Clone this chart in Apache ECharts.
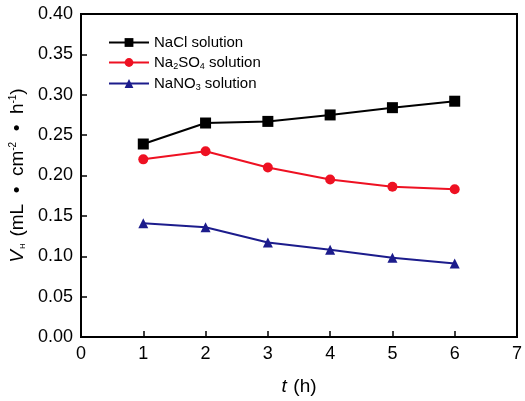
<!DOCTYPE html>
<html><head><meta charset="utf-8">
<script src="https://cdn.jsdelivr.net/npm/echarts@6/dist/echarts.min.js"></script>
<style>html,body{margin:0;padding:0;background:#fff}#c{width:525px;height:401px}</style>
</head><body><div id="c"></div>
<script>
const hours = [1, 2, 3, 4, 5, 6];
const seriesNames = ['NaCl solution', 'Na2SO4 solution', 'NaNO3 solution'];
const nacl = [0.239, 0.265, 0.267, 0.275, 0.284, 0.292];
const na2so4 = [0.220, 0.230, 0.210, 0.195, 0.186, 0.183];
const nano3 = [0.141, 0.136, 0.117, 0.108, 0.098, 0.091];
const yTicks = ['0.00','0.05','0.10','0.15','0.20','0.25','0.30','0.35','0.40'];

const FONT = 'Liberation Sans, Arial, sans-serif';
const legendRich = {
  n: {fontSize: 15, fontFamily: FONT, color: '#000'},
  s: {fontSize: 9, fontFamily: FONT, color: '#000', verticalAlign: 'bottom', padding: [8, 0, 0, 0]}
};
const legendLabels = {
  'NaCl solution': '{n|NaCl solution}',
  'Na2SO4 solution': '{n|Na}{s|2}{n|SO}{s|4}{n| solution}',
  'NaNO3 solution': '{n|NaNO}{s|3}{n| solution}'
};
function pts(v){ return hours.map((h,i)=>[h, v[i]]); }

const chart = echarts.init(document.getElementById('c'), null, {renderer: 'canvas'});
chart.setOption({
  animation: false,
  backgroundColor: '#fff',
  grid: {left: 81, right: 6, top: 14, bottom: 63, show: true, borderColor: '#000', borderWidth: 2, backgroundColor: 'transparent'},
  legend: {
    left: 103, top: 30, orient: 'vertical', itemWidth: 40, itemHeight: 11, itemGap: 5,
    data: seriesNames,
    formatter: n => legendLabels[n],
    textStyle: {rich: legendRich, fontSize: 15, fontFamily: FONT}
  },
  xAxis: {
    type: 'value', min: 0, max: 7, interval: 1,
    axisLine: {show: true, onZero: false, lineStyle: {color: '#000', width: 2}},
    axisTick: {show: true, inside: true, length: 6, lineStyle: {color: '#000', width: 1.5}},
    splitLine: {show: false},
    axisLabel: {fontSize: 18, fontFamily: FONT, color: '#000', margin: 8},
    name: '{i|t}  {n|(h)}', nameLocation: 'middle', nameGap: 40,
    nameTextStyle: {rich: {i: {fontSize: 19, fontStyle: 'italic', fontFamily: FONT, color: '#000'}, n: {fontSize: 19, fontFamily: FONT, color: '#000'}}}
  },
  yAxis: {
    type: 'value', min: 0, max: 0.4, interval: 0.05,
    axisLine: {show: true, onZero: false, lineStyle: {color: '#000', width: 2}},
    axisTick: {show: true, inside: true, length: 6, lineStyle: {color: '#000', width: 1.5}},
    splitLine: {show: false},
    axisLabel: {fontSize: 18, fontFamily: FONT, color: '#000', margin: 8, formatter: v => yTicks[Math.round(v / 0.05)]},
    name: '{i|V}{s|H}  {n|(mL  •  cm}{p|-2}{n|  •  h}{p|-1}{n|)}', nameLocation: 'middle', nameGap: 49,
    nameTextStyle: {rich: {
      i: {fontSize: 19, fontStyle: 'italic', fontFamily: FONT, color: '#000'},
      s: {fontSize: 8, fontFamily: FONT, color: '#000', verticalAlign: 'bottom', padding: [9, 0, 0, 1]},
      n: {fontSize: 19, fontFamily: FONT, color: '#000'},
      p: {fontSize: 10, fontFamily: FONT, color: '#000', verticalAlign: 'top', padding: [0, 0, 9, 0]}
    }}
  },
  series: [
    {name: seriesNames[0], type: 'line', data: pts(nacl), symbol: 'rect', symbolSize: 11,
     lineStyle: {color: '#000', width: 2}, itemStyle: {color: '#000'}},
    {name: seriesNames[1], type: 'line', data: pts(na2so4), symbol: 'circle', symbolSize: 10,
     lineStyle: {color: '#ee1122', width: 2}, itemStyle: {color: '#ee1122'}},
    {name: seriesNames[2], type: 'line', data: pts(nano3), symbol: 'triangle', symbolSize: 10,
     lineStyle: {color: '#1c1c8c', width: 2}, itemStyle: {color: '#1c1c8c'}}
  ]
});
</script></body></html>
